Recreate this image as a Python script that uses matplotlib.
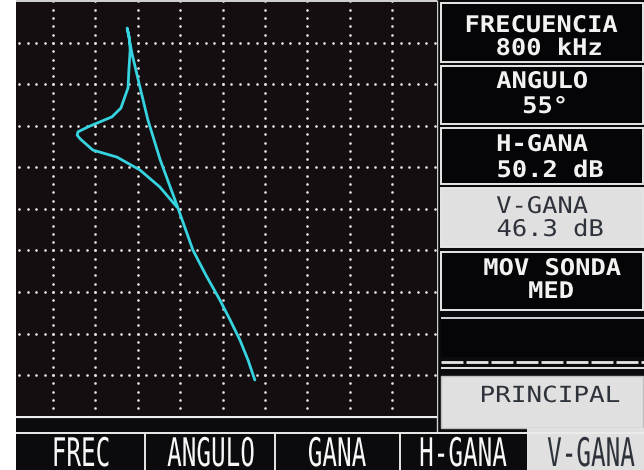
import numpy as np
import matplotlib.pyplot as plt
from matplotlib.patches import Rectangle
from matplotlib.patheffects import AbstractPathEffect
from matplotlib.transforms import Affine2D

# eddy-current trace on the impedance plane, in screen divisions (10 x 10)
trace_x = [5.76, 5.60, 5.41, 5.18, 4.94, 4.61, 4.30, 3.92, 3.53, 3.24, 3.05,
           2.86, 2.75, 2.80, 2.82, 2.79, 2.77, 2.67, 2.60, 2.39, 2.11, 1.83,
           1.59, 1.57, 1.64, 1.94, 2.51, 3.05, 3.52, 3.92]
trace_y = [0.88, 1.36, 1.84, 2.32, 2.80, 3.40, 4.01, 5.10, 6.18, 7.14, 7.94,
           8.76, 9.36, 9.12, 8.83, 8.35, 7.92, 7.63, 7.43, 7.22, 7.10, 6.98,
           6.86, 6.78, 6.69, 6.42, 6.25, 5.94, 5.53, 5.05]

panel_titles = ['FRECUENCIA', 'ANGULO', 'H-GANA', 'V-GANA', 'MOV SONDA']
panel_values = ['800 kHz', '55°', '50.2 dB', '46.3 dB', 'MED']
panel_light = [False, False, False, True, False]
mode_label = 'PRINCIPAL'
softkeys = ['FREC', 'ANGULO', 'GANA', 'H-GANA', 'V-GANA']
softkey_active = 'V-GANA'

# screen geometry in pixels
X0, DX = 10.6, 42.4
Y0, DY = 416.5, 41.5
TRACE = '#35d4e0'
DARK = '#0b0a0d'
LIGHT = '#e0e0e0'
INK = '#2e323a'


class Stretch(AbstractPathEffect):
    """Scale glyphs about the text's horizontal centre and its baseline."""

    def __init__(self, sx=1.0, sy=1.0):
        super().__init__()
        self.sx, self.sy = sx, sy

    def draw_path(self, renderer, gc, tpath, affine, rgbFace=None):
        ext = tpath.get_extents()
        cx = 0.5 * (ext.x0 + ext.x1)
        pre = Affine2D().translate(-cx, 0).scale(self.sx, self.sy).translate(cx, 0)
        renderer.draw_path(gc, tpath, pre + affine, rgbFace)


fig = plt.figure(figsize=(6.44, 4.70), dpi=100)
fig.patch.set_facecolor('white')

ui = fig.add_axes([0, 0, 1, 1], zorder=0)
ui.set_xlim(0, 644)
ui.set_ylim(470, 0)
ui.axis('off')


def box(x0, y0, x1, y1, fc, ec='none', lw=0.0):
    ui.add_patch(Rectangle((x0, y0), x1 - x0, y1 - y0, facecolor=fc,
                           edgecolor=ec, linewidth=lw))


def hline(y, x0, x1, color='#e6e6e6', lw=1.3, **kw):
    ui.plot([x0, x1], [y, y], color=color, lw=lw, solid_capstyle='butt', **kw)


def vline(x, y0, y1, color='#e6e6e6', lw=1.3):
    ui.plot([x, x], [y0, y1], color=color, lw=lw, solid_capstyle='butt')


box(16, 0, 644, 470, DARK)
box(16, 0, 437, 2.5, '#cfcfcf')

# right-hand menu panel
vline(437.5, 0, 433, '#d0d0d0', 1.0)
title_base = [32, 88, 151, 213, 275]
value_base = [55, 113, 177, 236, 298]
title_cx = [541, 542, 542, 542, 552]
value_cx = [549, 545, 550, 550, 551]
box_rows = [(3, 62), (66, 124), (128, 184), (188, 247), (252, 310)]
for i, (t, v) in enumerate(zip(panel_titles, panel_values)):
    light = panel_light[i]
    y0, y1 = box_rows[i]
    box(441, y0, 643, y1, LIGHT if light else '#050507', '#e8e8e8', 1.4)
    kw = dict(family='DejaVu Sans Mono', fontsize=16.5, ha='center',
              va='baseline', color=INK if light else '#f2f2f2',
              weight='normal' if light else 'bold')
    for cx, base, s in ((title_cx[i], title_base[i], t), (value_cx[i], value_base[i], v)):
        txt = ui.text(cx, base, s, **kw)
        txt.set_path_effects([Stretch(1.11, 1.0)])

hline(318, 441, 644)
box(441, 319, 644, 357, '#050507')
hline(361.5, 441, 644, '#e6e6e6', 2.0, dashes=(7.9, 1.1))
hline(368, 441, 644, '#e6e6e6', 1.4)
box(441, 376, 643, 428, LIGHT, '#bdbdbd', 1.0)
mode = ui.text(550, 402, mode_label, family='DejaVu Sans Mono', fontsize=16,
               ha='center', va='baseline', color=INK)
mode.set_path_effects([Stretch(1.17, 1.0)])

# soft-key row along the bottom
hline(417, 16, 437, '#ececec', 1.6)
hline(433, 16, 644, '#ececec', 1.4)
key_edges = [16, 145, 275, 400, 527, 644]
key_cx = [81, 211, 337, 463, 591]
for i, label in enumerate(softkeys):
    active = label == softkey_active
    if active:
        box(key_edges[i], 428, key_edges[i + 1], 470, LIGHT)
    elif i > 0:
        vline(key_edges[i], 434, 470, '#e6e6e6', 1.4)
    t = ui.text(key_cx[i], 466, label, family='DejaVu Sans Mono', fontsize=17.5,
                ha='center', va='baseline', color=INK if active else '#f7f7f7')
    t.set_path_effects([Stretch(1.0, 1.62)])

# trace display
ax = fig.add_axes([16 / 644, (470 - 416) / 470, (437 - 16) / 644, (416 - 2.5) / 470],
                  zorder=2)
ax.set_facecolor('#150e11')
ax.set_xlim((16 - X0) / DX, (437 - X0) / DX)
ax.set_ylim((Y0 - 416) / DY, (Y0 - 2.5) / DY)
ax.set_xticks([])
ax.set_yticks([])
for s in ax.spines.values():
    s.set_visible(False)

steps = np.arange(0, 10.01, 0.2)
for k in range(1, 10):
    ax.plot(steps, np.full_like(steps, k), ls='none', marker='o', ms=1.9,
            mfc='#e4e4e4', mec='none')
    ax.plot(np.full_like(steps, k), steps, ls='none', marker='o', ms=1.9,
            mfc='#e4e4e4', mec='none')

ax.plot(trace_x, trace_y, color=TRACE, lw=2.0, solid_joinstyle='round',
        solid_capstyle='round', zorder=3)

fig.savefig('out.png', dpi=100)
